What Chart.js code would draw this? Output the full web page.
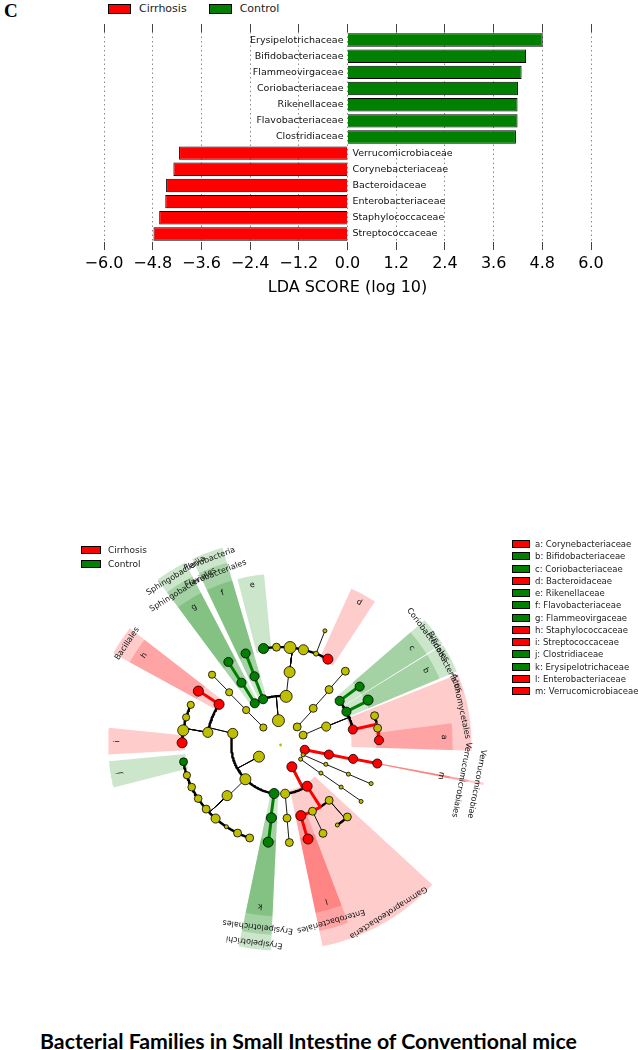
<!DOCTYPE html>
<html>
<head>
<meta charset="utf-8">
<script src="https://cdn.jsdelivr.net/npm/chart.js@4.4.1/dist/chart.umd.min.js"></script>
<style>
  body{margin:0;background:#fff;width:638px;height:1050px;position:relative;overflow:hidden;font-family:"DejaVu Sans",sans-serif}
  canvas{position:absolute;left:0}
  #lda{top:0}
  #clado{top:515px}
  .panel{position:absolute;left:4px;top:0px;font:bold 19px "Liberation Serif",serif}
  .lg{position:absolute;color:#222;white-space:nowrap}
  .lg div{height:14px;display:flex;align-items:center}
  .lg i{display:inline-block;box-sizing:border-box;border:1px solid #000}
  #title{position:absolute;left:40px;top:1028px;font-weight:bold;font-family:Lato,sans-serif;white-space:nowrap;color:#000}
</style>
</head>
<body>
<div class="panel">C</div>
<div class="lg" id="ldaLegend" style="left:108px;top:1px;font-size:11px"></div>
<canvas id="lda" width="638" height="300"></canvas>
<canvas id="clado" width="638" height="460"></canvas>
<div class="lg" id="cladoLegend" style="left:81px;top:543px;font-size:9px"></div>
<div class="lg" id="keyLegend" style="left:512px;top:538px;font-size:8.5px"></div>
<div id="title">Bacterial Families in Small Intestine of Conventional mice</div>
<script>
// ================= LDA BAR DATA =================
const families = ["Erysipelotrichaceae","Bifidobacteriaceae","Flammeovirgaceae","Coriobacteriaceae",
  "Rikenellaceae","Flavobacteriaceae","Clostridiaceae","Verrucomicrobiaceae","Corynebacteriaceae",
  "Bacteroidaceae","Enterobacteriaceae","Staphylococcaceae","Streptococcaceae"];
const cirrhosisLDA = [null,null,null,null,null,null,null,-4.15,-4.29,-4.47,-4.49,-4.64,-4.78];
const controlLDA = [4.81,4.40,4.29,4.20,4.19,4.19,4.15,null,null,null,null,null,null];
const ldaTicks = [-6.0,-4.8,-3.6,-2.4,-1.2,0.0,1.2,2.4,3.6,4.8,6.0];

// ================= CLADOGRAM DATA =================
// one entry per node: taxon, rank level (0 root .. 5 genus), angle (deg), parent, enriched group, abundance
const N = "", R = "Cirrhosis", G = "Control";
const taxa = ["",
  "Bacteroidetes","Bacteroidia","Bacteroidales","Rikenellaceae","","","","","","Bacteroidaceae",
  "Flavobacteria","Flavobacteriales","Flavobacteriaceae","Sphingobacteriia","Sphingobacteriales","Flammeovirgaceae",
  "","","","",
  "Firmicutes","Bacilli","Lactobacillales","","","","Streptococcaceae","Bacillales","Staphylococcaceae",
  "Clostridia","Clostridiales","Clostridiaceae","","","","","","","","",
  "Erysipelotrichi","Erysipelotrichales","Erysipelotrichaceae",
  "Proteobacteria","Gammaproteobacteria","","","","Enterobacteriales","Enterobacteriaceae","","","","","",
  "Verrucomicrobia","Verrucomicrobiae","Verrucomicrobiales","Verrucomicrobiaceae",
  "","","","","","","","",
  "Actinobacteria","Actinobacteria","Coriobacteriales","Coriobacteriaceae","Bifidobacteriales","Bifidobacteriaceae",
  "Actinomycetales","","","Corynebacteriaceae",
  "","","",""];
const level = [0,
  1,2,3,4,4,4,4,4,5,4, 2,3,4,2,3,4,
  1,2,3,4,
  1,2,3,4,4,4,4,3,4,2,3,4,4,4,4,4,4,4,4,4,2,3,4,
  1,2,2,3,4,3,4,3,4,3,4,4,
  1,2,3,4,
  1,2,3,4,1,2,3,4,
  1,2,3,4,3,4,3,4,4,4,
  1,2,3,4];
const angle = [0,
  95,83.5,83,100,92.4,84.5,76.6,68.9,68.9,61.3, 110.8,110.7,110.8,121.6,122,122,
  134.4,134.4,134.1,134.1,
  208.5,166.3,170.1,155.8,163.6,171.4,178.7,146.4,146.6,224.4,223.6,189.9,198,205.5,213.2,220.9,228.7,236.6,244.1,251.7,262.4,262.9,262.8,
  -62.7,-57.4,-84.7,-85,-84.9,-74.1,-73.8,-64.4,-64.5,-48.9,-47.3,-54.8,
  -11.3,-11.3,-10.9,-10.9,
  -23.8,-23.2,-23.4,-23.2,-35.5,-35,-35,-35.2,
  23.8,22.1,36.9,36.6,27,27.3,12.2,17.4,9.9,2.8,
  47.6,48.5,49,48.9];
const parent = [-1,
  0,1,2,3,3,3,3,3,8,3, 1,11,12,1,14,15,
  0,17,18,19,
  0,21,22,23,23,23,23,22,28,21,30,31,31,31,31,31,31,31,31,31,21,41,42,
  0,44,44,46,47,45,49,45,51,45,53,53,
  0,56,57,58,
  0,60,61,62,0,64,65,66,
  0,68,69,70,69,72,69,74,74,74,
  0,78,79,80];
const enriched = [N,
  N,N,N,G,N,N,N,N,N,R, G,G,G,G,G,G,
  N,N,N,N,
  N,N,N,N,N,N,R,R,R,N,N,G,N,N,N,N,N,N,N,N,G,G,G,
  R,R,N,N,N,R,R,N,N,N,N,N,
  R,R,R,R,
  N,N,N,N,N,N,N,N,
  N,N,G,G,G,G,R,N,N,R,
  N,N,N,N];
const abundance = [0.05,
  1.0,1.0,0.9,0.8,0.58,1.0,0.8,0.27,0.17,0.8, 0.7,0.7,0.7,0.7,0.7,0.7,
  0.5,0.5,0.5,0.5,
  0.9,0.8,0.8,0.5,0.5,0.9,0.8,0.8,0.8,0.9,0.8,0.58,0.5,0.55,0.55,0.58,0.7,0.17,0.58,0.58,0.8,0.8,0.8,
  0.8,0.8,0.7,0.58,0.58,0.8,0.8,0.58,0.58,0.58,0.58,0.17,
  0.7,0.7,0.7,0.7,
  0.17,0.17,0.17,0.17,0.17,0.17,0.17,0.17,
  0.58,0.7,0.7,0.7,0.7,0.8,0.7,0.58,0.58,0.7,
  0.58,0.58,0.58,0.58];
const keyFamilies = ["Corynebacteriaceae","Bifidobacteriaceae","Coriobacteriaceae","Bacteroidaceae",
  "Rikenellaceae","Flavobacteriaceae","Flammeovirgaceae","Staphylococcaceae","Streptococcaceae",
  "Clostridiaceae","Erysipelotrichaceae","Enterobacteriaceae","Verrucomicrobiaceae"];
const keyLetters = ["a","b","c","d","e","f","g","h","i","j","k","l","m"];

// ================= STYLE =================
const col = {Cirrhosis:"#ff0000", Control:"#008000", none:"#bfbf00"};
const shade = {Cirrhosis:"rgba(255,0,0,0.2)", Control:"rgba(0,128,0,0.2)"};
const ringStep = 25;
const wedgeOuter = {2:210, 3:194, 4:175};
const labelR = {2:203, 3:187, 4:166};
const narrow = new Set(["Verrucomicrobiae","Verrucomicrobiales","Verrucomicrobiaceae"]); // single thin line in LEfSe output

// ================= LDA CHART =================
const barLabels = {
  id:"barLabels",
  afterDatasetsDraw(chart){
    const {ctx, scales:{x, y}} = chart;
    const x0 = x.getPixelForValue(0);
    ctx.save();
    ctx.font = '9.5px "DejaVu Sans"';
    ctx.fillStyle = "#111";
    ctx.textBaseline = "middle";
    families.forEach((name,i)=>{
      const v = controlLDA[i] !== null ? controlLDA[i] : cirrhosisLDA[i];
      const yy = y.getPixelForValue(i);
      if(v > 0){ ctx.textAlign = "right"; ctx.fillText(name, x0-4, yy); }
      else { ctx.textAlign = "left"; ctx.fillText(name, x0+5, yy); }
    });
    ctx.restore();
  }
};

const setTicks = s=>{ s.ticks = ldaTicks.map(v=>({value:v})); };
const fmt = v=> (v < 0 ? "\u2212" : "") + Math.abs(v).toFixed(1);

new Chart(document.getElementById("lda"),{
  type:"bar",
  data:{
    labels:families,
    datasets:[
      {label:"Cirrhosis", data:cirrhosisLDA, backgroundColor:col.Cirrhosis, borderColor:"#000", borderWidth:1,
       grouped:false, barPercentage:0.83, categoryPercentage:1},
      {label:"Control", data:controlLDA, backgroundColor:col.Control, borderColor:"#000", borderWidth:1,
       grouped:false, barPercentage:0.83, categoryPercentage:1}
    ]
  },
  options:{
    indexAxis:"y", responsive:false, animation:false,
    layout:{padding:{left:104, right:47, top:24, bottom:0}},
    plugins:{legend:{display:false}, tooltip:{enabled:false}},
    scales:{
      x:{type:"linear", position:"bottom", min:-6, max:6,
        afterBuildTicks:setTicks, afterFit:s=>{ s.height = 58; },
        grid:{color:"#8a8a8a", lineWidth:1, tickColor:"#444", tickLength:8, tickWidth:1},
        border:{display:false, dash:[1.5,3]},
        ticks:{color:"#000", padding:4, maxRotation:0, autoSkip:false, font:{family:"DejaVu Sans", size:16}, callback:fmt},
        title:{display:true, text:"LDA SCORE (log 10)", color:"#000", font:{family:"DejaVu Sans", size:16}, padding:{top:0, bottom:3}}
      },
      xTop:{type:"linear", axis:"x", position:"top", min:-6, max:6,
        afterBuildTicks:setTicks, afterFit:s=>{ s.height = 8; },
        grid:{drawOnChartArea:false, tickColor:"#444", tickLength:8},
        border:{display:false},
        ticks:{display:false}
      },
      y:{display:false}
    }
  },
  plugins:[barLabels]
});

// ================= CLADOGRAM =================
const rad = d=>d*Math.PI/180;
const pt = (r,a)=>({x:r*Math.cos(rad(a)), y:r*Math.sin(rad(a))});
function arcPts(r,a1,a2){
  const n = Math.max(2, Math.ceil(Math.abs(a2-a1))+1), out = [];
  for(let k=0;k<n;k++) out.push(pt(r, a1+(a2-a1)*k/(n-1)));
  return out;
}
const children = taxa.map(()=>[]);
parent.forEach((p,i)=>{ if(p >= 0) children[p].push(i); });
function familyAngles(i){
  if(level[i] >= 4) return [angle[i]];
  return children[i].flatMap(familyAngles);
}

// highlighted clades: shaded wedges
const wedges = [];
const labels = [];
taxa.forEach((t,i)=>{
  const L = level[i];
  if(!enriched[i] || L < 2 || L > 4) return;
  const fa = familyAngles(i);
  const half = narrow.has(t) ? 0.35 : 4.5;
  const a1 = Math.min(...fa)-half, a2 = Math.max(...fa)+half;
  const rIn = L*ringStep-3, rOut = wedgeOuter[L];
  const poly = arcPts(rIn,a1,a2).concat(arcPts(rOut,a2,a1));
  wedges.push({type:"line", data:poly, fill:"shape", backgroundColor:shade[enriched[i]],
    borderWidth:0, pointRadius:0, order:5});
  const text = L === 4 ? keyLetters[keyFamilies.indexOf(t)] : t;
  labels.push({text, r:labelR[L], a:angle[i]});
});

// edges: radial from parent out to child ring, then arc to child angle
const thin = [], thick = [], red = [], green = [];
const gap = {x:null, y:null};
taxa.forEach((t,i)=>{
  const p = parent[i];
  if(p <= 0) return;
  const r0 = level[p]*ringStep, r1 = level[i]*ringStep;
  const radial = [pt(r0,angle[p]), pt(r1,angle[p])];
  const arc = arcPts(r1, angle[p], angle[i]);
  if(enriched[i] && enriched[i] === enriched[p]){
    const tgt = enriched[i] === R ? red : green;
    tgt.push(...radial, ...arc, gap);
  } else {
    thin.push(...radial, gap);
    thick.push(...arc, gap);
  }
});
const edgeSet = (data,color,w,order)=>({type:"line", data, borderColor:color, borderWidth:w,
  pointRadius:0, fill:false, spanGaps:false, borderCapStyle:"round", borderJoinStyle:"round", order});

const nodes = {
  type:"line", showLine:false, order:0,
  data:taxa.map((t,i)=>pt(level[i]*ringStep, angle[i])),
  pointRadius:abundance.map(a=>1.2+4.8*a),
  pointBackgroundColor:enriched.map(e=>e ? col[e] : col.none),
  pointBorderColor:"#000",
  pointBorderWidth:abundance.map(a=>a < 0.1 ? 0 : 0.8)
};

const cladeLabels = {
  id:"cladeLabels",
  afterDatasetsDraw(chart){
    const {ctx, scales:{x, y}} = chart;
    ctx.save();
    ctx.fillStyle = "#111";
    ctx.textAlign = "center";
    ctx.textBaseline = "middle";
    ctx.font = '8px "DejaVu Sans"';
    labels.forEach(l=>{
      const p = pt(l.r, l.a);
      ctx.save();
      ctx.translate(x.getPixelForValue(p.x), y.getPixelForValue(p.y));
      ctx.rotate(rad(90-l.a));
      ctx.fillText(l.text,0,0);
      ctx.restore();
    });
    ctx.restore();
  }
};

new Chart(document.getElementById("clado"),{
  type:"line",
  data:{datasets:[
    ...wedges,
    edgeSet(thin,"#000",0.9,4),
    edgeSet(thick,"#000",2.4,3),
    edgeSet(red,col.Cirrhosis,3,2),
    edgeSet(green,col.Control,3,1),
    nodes
  ]},
  options:{
    responsive:false, animation:false,
    layout:{padding:0},
    plugins:{legend:{display:false}, tooltip:{enabled:false}},
    elements:{line:{tension:0}},
    scales:{
      x:{type:"linear", min:-280, max:358, display:false},
      y:{type:"linear", min:-230, max:230, display:false}
    }
  },
  plugins:[cladeLabels]
});

// ================= LEGENDS =================
const box = (c,w,h)=>`<i style="width:${w}px;height:${h}px;background:${c}"></i>`;
document.getElementById("ldaLegend").innerHTML =
  `<div style="height:15px">${box(col.Cirrhosis,23,10)}<span style="margin:0 22px 0 8px">Cirrhosis</span>` +
  `${box(col.Control,23,10)}<span style="margin-left:8px">Control</span></div>`;
document.getElementById("cladoLegend").innerHTML =
  [R,G].map(g=>`<div>${box(col[g],20,8)}<span style="margin-left:7px">${g}</span></div>`).join("");
document.getElementById("keyLegend").innerHTML =
  keyFamilies.map((f,k)=>{
    const g = enriched[taxa.indexOf(f)];
    return `<div style="height:12.25px">${box(col[g],18,8)}<span style="margin-left:5px">${keyLetters[k]}: ${f}</span></div>`;
  }).join("");

// title: fit to the width of the original caption
const title = document.getElementById("title");
title.style.fontSize = "20px";
const w = title.getBoundingClientRect().width;
title.style.fontSize = (20*537/w).toFixed(2)+"px";
</script>
</body>
</html>
